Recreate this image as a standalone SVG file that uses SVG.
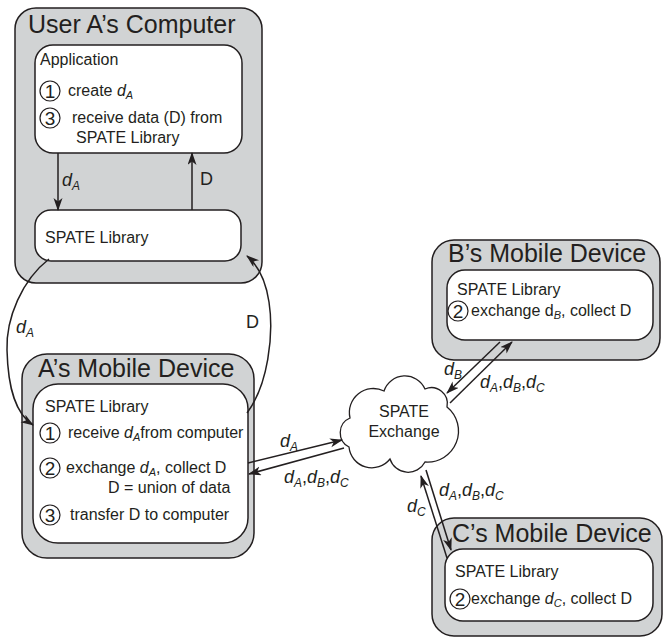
<svg xmlns="http://www.w3.org/2000/svg" width="665" height="639" viewBox="0 0 665 639">
<defs>
<style>
.outer{fill:#d1d3d4;stroke:#231f20;stroke-width:1.5}
.inner{fill:#fff;stroke:#231f20;stroke-width:1.5}
.title{font-family:"Liberation Sans",Arial,sans-serif;font-size:25px;fill:#231f20}
.t{font-family:"Liberation Sans",Arial,sans-serif;font-size:16px;fill:#231f20}
.lbl{font-family:"Liberation Sans",Arial,sans-serif;font-size:18px;fill:#231f20}
.num{font-family:"Liberation Sans",Arial,sans-serif;font-size:19px;fill:#231f20;text-anchor:middle}
.ring{fill:none;stroke:#231f20;stroke-width:1.2}
.i{font-style:italic}
.s{font-style:italic;font-size:11px}
.ls{font-style:italic;font-size:12px}
.line{fill:none;stroke:#231f20;stroke-width:1.5}
.cloud{fill:#fff;stroke:#231f20;stroke-width:1.3}
</style>
<marker id="ah" markerUnits="userSpaceOnUse" markerWidth="14" markerHeight="10" refX="12" refY="4.5" orient="auto">
<path d="M0,0 L13,4.5 L0,9 L3.5,4.5 Z" fill="#231f20"/>
</marker>
</defs>

<g id="computer">
<rect class="outer" x="15" y="8" width="247" height="275" rx="21"/>
<text class="title" x="28" y="33">User A’s Computer</text>
</g>

<g id="application">
<rect class="inner" x="35" y="45" width="207" height="108" rx="18"/>
<text class="t" x="40" y="65">Application</text>
<circle class="ring" cx="50" cy="91" r="10"/>
<text class="num" x="50" y="98">1</text>
<text class="t" x="68" y="96">create <tspan class="i">d</tspan><tspan class="s" dy="3">A</tspan></text>
<circle class="ring" cx="50" cy="118" r="10"/>
<text class="num" x="50" y="125">3</text>
<text class="t" x="72" y="123">receive data (D) from</text>
<text class="t" x="76" y="143">SPATE Library</text>
</g>

<g id="computer-library">
<rect class="inner" x="35" y="210" width="206" height="51" rx="16"/>
<text class="t" x="45" y="243">SPATE Library</text>
</g>

<g id="a-device">
<rect class="outer" x="22" y="354" width="232" height="204" rx="25"/>
<text class="title" x="38" y="377">A’s Mobile Device</text>
<rect class="inner" x="33" y="384" width="215" height="159" rx="25"/>
<text class="t" x="45" y="412">SPATE Library</text>
<circle class="ring" cx="50" cy="433" r="10"/>
<text class="num" x="50" y="440">1</text>
<text class="t" x="68" y="438">receive <tspan class="i">d</tspan><tspan class="s" dy="3">A</tspan><tspan dy="-3">from computer</tspan></text>
<circle class="ring" cx="50" cy="468" r="10"/>
<text class="num" x="50" y="475">2</text>
<text class="t" x="66" y="473">exchange <tspan class="i">d</tspan><tspan class="s" dy="3">A</tspan><tspan dy="-3">, collect D</tspan></text>
<text class="t" x="108" y="493">D = union of data</text>
<circle class="ring" cx="50" cy="515" r="10"/>
<text class="num" x="50" y="522">3</text>
<text class="t" x="70" y="520">transfer D to computer</text>
</g>

<g id="b-device">
<rect class="outer" x="432" y="240" width="228" height="120" rx="22"/>
<text class="title" x="448" y="262">B’s Mobile Device</text>
<rect class="inner" x="447" y="270" width="206" height="70" rx="18"/>
<text class="t" x="457" y="295">SPATE Library</text>
<circle class="ring" cx="458" cy="311" r="10"/>
<text class="num" x="458" y="318">2</text>
<text class="t" x="471" y="316">exchange d<tspan class="s" dy="3">B</tspan><tspan dy="-3">, collect D</tspan></text>
</g>

<g id="c-device">
<rect class="outer" x="432" y="518" width="230" height="118" rx="22"/>
<text class="title" x="452" y="542">C’s Mobile Device</text>
<rect class="inner" x="445" y="549" width="208" height="72" rx="18"/>
<text class="t" x="455" y="577">SPATE Library</text>
<circle class="ring" cx="460" cy="599" r="10"/>
<text class="num" x="460" y="606">2</text>
<text class="t" x="471" y="604">exchange <tspan class="i">d</tspan><tspan class="s" dy="3">C</tspan><tspan dy="-3">, collect D</tspan></text>
</g>

<g id="spate-exchange">
<path class="cloud" d="M349,447 A16,16 0 0 1 350,418 A24,24 0 0 1 384,391 A22,22 0 0 1 425,389 A16,16 0 0 1 447,407 A31,31 0 0 1 425,462 A19,19 0 0 1 390,459 A23,23 0 0 1 349,447 Z"/>
<text class="t" x="404" y="417" text-anchor="middle">SPATE</text>
<text class="t" x="404" y="437" text-anchor="middle">Exchange</text>
</g>

<g id="connectors">
<path class="line" d="M58,153 L58,210" marker-end="url(#ah)"/>
<path class="line" d="M192,210 L192,153" marker-end="url(#ah)"/>
<path class="line" d="M49,259 C22,280 6,318 7,350 C8,390 16,414 33,425" marker-end="url(#ah)"/>
<path class="line" d="M247,413 C268,385 274,335 269,302 C266,282 259,266 247,256" marker-end="url(#ah)"/>
<path class="line" d="M248,463 L342,440" marker-end="url(#ah)"/>
<path class="line" d="M344,448 L249,474" marker-end="url(#ah)"/>
<path class="line" d="M500,342 L447,393" marker-end="url(#ah)"/>
<path class="line" d="M450,403 L512,342" marker-end="url(#ah)"/>
<path class="line" d="M447,558 L421,476" marker-end="url(#ah)"/>
<path class="line" d="M426,470 L451,550" marker-end="url(#ah)"/>
</g>

<g id="labels">
<text class="lbl" x="62" y="186"><tspan class="i">d</tspan><tspan class="ls" dy="4">A</tspan></text>
<text class="lbl" x="200" y="185">D</text>
<text class="lbl" x="16" y="333"><tspan class="i">d</tspan><tspan class="ls" dy="4">A</tspan></text>
<text class="lbl" x="246" y="328">D</text>
<text class="lbl" x="280" y="447"><tspan class="i">d</tspan><tspan class="ls" dy="4">A</tspan></text>
<text class="lbl" x="284" y="483"><tspan class="i">d</tspan><tspan class="ls" dy="4">A</tspan><tspan dy="-4">,</tspan><tspan class="i">d</tspan><tspan class="ls" dy="4">B</tspan><tspan dy="-4">,</tspan><tspan class="i">d</tspan><tspan class="ls" dy="4">C</tspan></text>
<text class="lbl" x="444" y="375"><tspan class="i">d</tspan><tspan class="ls" dy="4">B</tspan></text>
<text class="lbl" x="480" y="388"><tspan class="i">d</tspan><tspan class="ls" dy="4">A</tspan><tspan dy="-4">,</tspan><tspan class="i">d</tspan><tspan class="ls" dy="4">B</tspan><tspan dy="-4">,</tspan><tspan class="i">d</tspan><tspan class="ls" dy="4">C</tspan></text>
<text class="lbl" x="407" y="512"><tspan class="i">d</tspan><tspan class="ls" dy="4">C</tspan></text>
<text class="lbl" x="439" y="496"><tspan class="i">d</tspan><tspan class="ls" dy="4">A</tspan><tspan dy="-4">,</tspan><tspan class="i">d</tspan><tspan class="ls" dy="4">B</tspan><tspan dy="-4">,</tspan><tspan class="i">d</tspan><tspan class="ls" dy="4">C</tspan></text>
</g>
</svg>
